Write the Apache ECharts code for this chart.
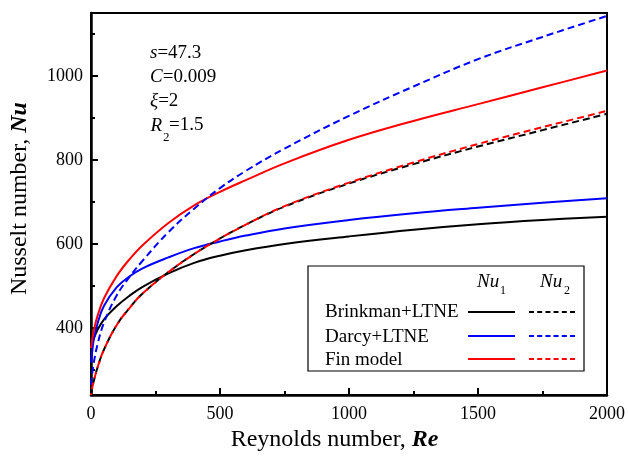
<!DOCTYPE html>
<html>
<head>
<meta charset="utf-8">
<script src="https://cdn.jsdelivr.net/npm/echarts@6/dist/echarts.min.js"></script>
<style>
  html, body { margin: 0; padding: 0; background: #fff; }
  #chart { width: 628px; height: 457px; }
</style>
</head>
<body>
<div id="chart"></div>
<script>
// Reynolds numbers sampled along the curves
const reynolds = [0, 5, 10, 25, 50, 100, 150, 200, 300, 400, 500, 600, 750, 1000, 1250, 1500, 1750, 2000]
// Nu1 (solid) and Nu2 (dashed) for each model
const brinkmanNu1 = [345, 362, 373, 395, 420, 452, 477, 498, 530, 555, 572, 585, 600, 618, 634, 647, 657, 665]
const brinkmanNu2 = [240, 258, 272, 305, 348, 407, 448, 482, 533, 576, 613, 646, 689, 744, 790, 832, 871, 910]
const darcyNu1 = [318, 345, 370, 410, 452, 497, 523, 542, 568, 590, 606, 620, 637, 657, 673, 686, 698, 709]
const darcyNu2 = [265, 293, 315, 360, 412, 478, 522, 560, 628, 684, 733, 774, 827, 905, 975, 1040, 1093, 1143]
const finNu1 = [352, 374, 391, 428, 470, 524, 564, 597, 650, 692, 724, 752, 792, 848, 893, 933, 973, 1013]
const finNu2 = [240, 258, 272, 305, 348, 407, 448, 482, 533, 576, 613, 646, 690, 746, 794, 838, 878, 917]

const yLabelValues = [400, 600, 800, 1000]
const yMinorValues = [300, 500, 700, 900, 1100]

const serif = '"Liberation Serif", "Times New Roman", serif'
const chart = echarts.init(document.getElementById('chart'))

function pairs(ys) {
  return reynolds.map((r, i) => [r, ys[i]])
}

function curve(name, ys, color, dashed, offset) {
  return {
    name: name,
    type: 'line',
    data: pairs(ys),
    showSymbol: false,
    smooth: 0.4,
    lineStyle: {
      color: color,
      width: 2,
      type: dashed ? [7, 4] : 'solid',
      dashOffset: offset || 0
    },
    animation: false
  }
}

function txt(x, y, text, size, italic) {
  return {
    type: 'text',
    x: x,
    y: y,
    style: {
      text: text,
      fill: '#000',
      fontSize: size,
      fontFamily: serif,
      fontStyle: italic ? 'italic' : 'normal',
      align: 'left',
      verticalAlign: 'middle'
    }
  }
}

function seg(x1, x2, y, color, dashed) {
  return {
    type: 'line',
    shape: { x1: x1, y1: y, x2: x2, y2: y },
    style: { stroke: color, lineWidth: 2, lineDash: dashed ? [5, 3.2] : null }
  }
}

function note(y, sym, rest) {
  return {
    type: 'text', x: 150, y: y,
    style: {
      text: '{i|' + sym + '}{r|' + rest + '}',
      rich: {
        i: { fontSize: 19, fontFamily: serif, fontStyle: 'italic' },
        r: { fontSize: 19, fontFamily: serif }
      },
      fill: '#000', align: 'left', verticalAlign: 'middle'
    }
  }
}

const richTitle = {
  a: { fontSize: 24, fontFamily: serif, color: '#000' },
  b: { fontSize: 24, fontFamily: serif, color: '#000', fontWeight: 'bold', fontStyle: 'italic' }
}

chart.setOption({
  backgroundColor: '#fff',
  grid: {
    left: 90,
    right: 20,
    top: 13,
    bottom: 61,
    show: true,
    borderColor: '#000',
    borderWidth: 2
  },
  xAxis: {
    type: 'value',
    min: 0,
    max: 2000,
    interval: 500,
    name: '{a|Reynolds number, }{b|Re}',
    nameLocation: 'middle',
    nameGap: 31,
    nameTextStyle: { rich: richTitle, padding: [0, 29, 0, 0] },
    axisLine: { lineStyle: { color: '#000', width: 2.5 } },
    axisTick: { inside: true, length: 7, lineStyle: { color: '#000', width: 2 } },
    minorTick: { show: true, splitNumber: 2, length: 4, lineStyle: { color: '#000', width: 2 } },
    axisLabel: { color: '#000', fontSize: 18, fontFamily: serif, margin: 10, formatter: v => String(v) },
    splitLine: { show: false }
  },
  yAxis: [{
    type: 'value',
    min: 240,
    max: 1150,
    name: '{a|Nusselt number, }{b|Nu}',
    nameLocation: 'middle',
    nameGap: 59,
    nameTextStyle: { rich: richTitle, padding: [0, 0, 0, 11] },
    axisLine: { lineStyle: { color: '#000', width: 2.5 } },
    axisTick: { inside: true, length: 7, customValues: yLabelValues, lineStyle: { color: '#000', width: 2 } },
    axisLabel: { color: '#000', fontSize: 18, fontFamily: serif, margin: 8, customValues: yLabelValues, formatter: v => String(v) },
    splitLine: { show: false }
  }, {
    type: 'value',
    min: 240,
    max: 1150,
    position: 'left',
    axisLine: { show: false },
    axisTick: { show: true, inside: true, length: 4, customValues: yMinorValues, lineStyle: { color: '#000', width: 2 } },
    axisLabel: { show: false },
    splitLine: { show: false }
  }],
  series: [
    curve('Brinkman+LTNE Nu1', brinkmanNu1, '#000000', false),
    curve('Darcy+LTNE Nu1', darcyNu1, '#0000ff', false),
    curve('Fin model Nu1', finNu1, '#ff0000', false),
    curve('Darcy+LTNE Nu2', darcyNu2, '#0000ff', true),
    curve('Brinkman+LTNE Nu2', brinkmanNu2, '#000000', true),
    curve('Fin model Nu2', finNu2, '#ff0000', true, 5)
  ],
  graphic: [
    // parameter notes
    note(53, 's', '=47.3'),
    note(77, 'C', '=0.009'),
    note(101, 'ξ', '=2'),
    txt(150.5, 125.5, 'R', 19, true),
    txt(163, 138, '2', 13, false),
    txt(169, 125.5, '=1.5', 19, false),
    // legend box
    {
      type: 'rect',
      shape: { x: 308, y: 266, width: 276, height: 105 },
      style: { fill: '#fff', stroke: '#000', lineWidth: 1.2 },
      z: 10
    },
    Object.assign(txt(477, 282, 'Nu', 19, true), { z: 11 }),
    Object.assign(txt(500, 291, '1', 12, false), { z: 11 }),
    Object.assign(txt(540, 282, 'Nu', 19, true), { z: 11 }),
    Object.assign(txt(564, 291, '2', 12, false), { z: 11 }),
    Object.assign(txt(325, 312, 'Brinkman+LTNE', 19, false), { z: 11 }),
    Object.assign(txt(325, 337, 'Darcy+LTNE', 19, false), { z: 11 }),
    Object.assign(txt(325, 360, 'Fin model', 19, false), { z: 11 }),
    Object.assign(seg(468, 515, 312, '#000000', false), { z: 11 }),
    Object.assign(seg(529, 575, 312, '#000000', true), { z: 11 }),
    Object.assign(seg(468, 515, 336, '#0000ff', false), { z: 11 }),
    Object.assign(seg(529, 575, 336, '#0000ff', true), { z: 11 }),
    Object.assign(seg(468, 515, 359, '#ff0000', false), { z: 11 }),
    Object.assign(seg(529, 575, 359, '#ff0000', true), { z: 11 })
  ]
})
</script>
</body>
</html>
